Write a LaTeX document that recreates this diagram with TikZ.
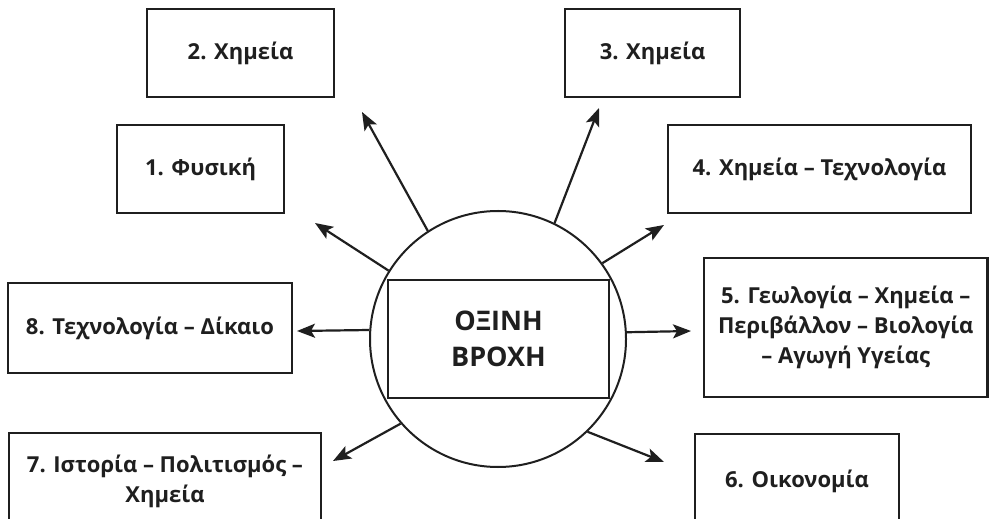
\documentclass[tikz,border=0pt]{standalone}
\usepackage{fontspec}
\setmainfont{Open Sans}[BoldFont={Open Sans Bold}]
\usetikzlibrary{arrows.meta}
\tikzset{
  box/.style={draw=black!88, line width=2.3bp, rectangle, inner sep=0pt, align=center,
    font=\fontsize{22bp}{30bp}\selectfont\bfseries, text=black!88},
  arr/.style={draw=black!88, line width=2.2bp, -{Stealth[length=18bp,width=14bp,inset=4bp]}}
}
\begin{document}
\begin{tikzpicture}[x=1bp,y=-1bp]
\useasboundingbox (0,0) rectangle (989,519);
\clip (0,0) rectangle (989,519);
\fill[white] (0,0) rectangle (989,519);
% centre
\node[draw=black!88, line width=2bp, circle, minimum size=256bp, inner sep=0pt] (c) at (498,339) {};
\node[box, minimum width=221bp, minimum height=118bp,
  font=\fontsize{27bp}{36bp}\selectfont\bfseries] (core) at (498.5,339) {ΟΞΙΝΗ\\ΒΡΟΧΗ};
% boxes
\node[box, minimum width=187bp, minimum height=88bp] (b2) at (240.5,53) {2. Χημεία};
\node[box, minimum width=167bp, minimum height=88bp] (b1) at (200.5,169) {1. Φυσική};
\node[box, minimum width=175bp, minimum height=88bp] (b3) at (652.5,53) {3. Χημεία};
\node[box, minimum width=303bp, minimum height=88bp] (b4) at (819.5,169) {4. Χημεία – Τεχνολογία};
\node[box, minimum width=284bp, minimum height=90bp] (b8) at (150,328) {8. Τεχνολογία – Δίκαιο};
\node[box, minimum width=283.5bp, minimum height=139bp] (b5) at (845.75,327.5) {5. Γεωλογία – Χημεία –\\Περιβάλλον – Βιολογία\\– Αγωγή Υγείας};
\node[box, minimum width=312bp, minimum height=96bp] (b7) at (165,481) {7. Ιστορία – Πολιτισμός –\\Χημεία};
\node[box, minimum width=204bp, minimum height=94bp] (b6) at (797,481) {6. Οικονομία};
% arrow tips
\coordinate (t2) at (362,112);
\coordinate (t1) at (315,223);
\coordinate (t3) at (599,108);
\coordinate (t4) at (664,225);
\coordinate (t5) at (691,331);
\coordinate (t6) at (664,462);
\coordinate (t7) at (333,461);
\coordinate (t8) at (297,331);
% arrows
\draw[arr] (c.123.6) -- (t2);
\draw[arr] (c.148.4) -- (t1);
\draw[arr] (c.64.4) -- (t3);
\draw[arr] (c.36.6) -- (t4);
\draw[arr] (c.3.6) -- (t5);
\draw[arr] (c.-46.3) -- (t6);
\draw[arr] (c.221.2) -- (t7);
\draw[arr] (c.176.4) -- (t8);
\end{tikzpicture}
\end{document}
